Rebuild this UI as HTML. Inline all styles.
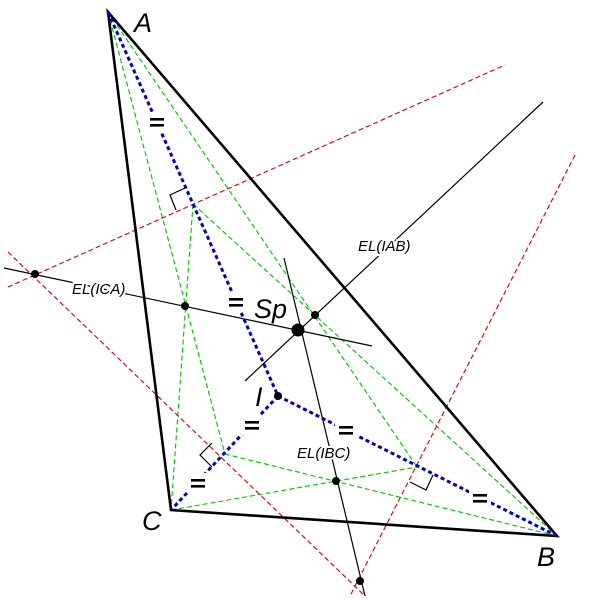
<!DOCTYPE html>
<html><head><meta charset="utf-8"><style>html,body{margin:0;padding:0;background:#fff}svg{display:block}</style></head>
<body>
<svg width="600" height="600" viewBox="0 0 600 600" xmlns="http://www.w3.org/2000/svg">
<rect width="600" height="600" fill="#fff"/>
<g stroke="#00c000" stroke-width="1.1" stroke-dasharray="5,3" fill="none">
<line x1="108" y1="12" x2="225" y2="454"/>
<line x1="108" y1="12" x2="417" y2="467"/>
<line x1="193" y1="204" x2="171" y2="510"/>
<line x1="193" y1="204" x2="557" y2="536"/>
<line x1="225" y1="454" x2="557" y2="536"/>
<line x1="171" y1="510" x2="417" y2="467"/>
</g>
<g stroke="#d00000" stroke-width="1.1" stroke-dasharray="5,3" fill="none">
<line x1="8" y1="287" x2="505" y2="65"/>
<line x1="8" y1="252" x2="365" y2="596"/>
<line x1="575" y1="155" x2="350" y2="596"/>
</g>
<g stroke="#000" stroke-width="1.2" fill="none">
<line x1="4" y1="268" x2="372" y2="346"/>
<line x1="245" y1="381" x2="543" y2="102"/>
<line x1="284" y1="258" x2="365" y2="596"/>
<polyline points="185,188 170,195 176,210"/>
<polyline points="212,443 200,455 212,467"/>
<polyline points="410,482 426,490 433,475"/>
</g>
<polygon points="108,12 557,536 171,510" fill="none" stroke="#000" stroke-width="2.6" stroke-linejoin="miter"/>
<g stroke="#0000c8" stroke-width="3" stroke-dasharray="4,3" fill="none">
<polyline points="108,12 278,396 557,536"/>
<line x1="278" y1="396" x2="171" y2="510"/>
</g>
<g fill="#fff">
<rect x="146" y="112" width="22" height="20"/>
<rect x="225" y="292" width="22" height="20"/>
<rect x="241" y="415" width="22" height="20"/>
<rect x="335" y="420" width="22" height="20"/>
<rect x="187" y="473" width="22" height="20"/>
<rect x="469" y="488" width="22" height="20"/>
</g>
<g fill="#000">
<rect x="150" y="118" width="14" height="2.6"/><rect x="150" y="124" width="14" height="2.6"/>
<rect x="229" y="298" width="14" height="2.6"/><rect x="229" y="304" width="14" height="2.6"/>
<rect x="245" y="421" width="14" height="2.6"/><rect x="245" y="427" width="14" height="2.6"/>
<rect x="339" y="426" width="14" height="2.6"/><rect x="339" y="432" width="14" height="2.6"/>
<rect x="191" y="479" width="14" height="2.6"/><rect x="191" y="485" width="14" height="2.6"/>
<rect x="473" y="494" width="14" height="2.6"/><rect x="473" y="500" width="14" height="2.6"/>
</g>
<g fill="#000">
<circle cx="35" cy="274" r="4"/>
<circle cx="185" cy="306" r="4"/>
<circle cx="298" cy="330" r="6.5"/>
<circle cx="315" cy="315" r="4"/>
<circle cx="278" cy="396" r="4"/>
<circle cx="336" cy="481" r="4"/>
<circle cx="360" cy="581" r="4"/>
</g>
<g font-family="Liberation Sans, sans-serif" font-style="italic" fill="#000">
<text x="134" y="32" font-size="27">A</text>
<text x="537" y="566" font-size="27">B</text>
<text x="142" y="530" font-size="27">C</text>
<text x="255" y="406" font-size="27">I</text>
<text x="254" y="318" font-size="27">Sp</text>
<g font-size="15" stroke="#fff" stroke-width="4" paint-order="stroke">
<text x="72" y="294">EL(ICA)</text>
<text x="358" y="251">EL(IAB)</text>
<text x="297" y="458">EL(IBC)</text>
</g>
</g>
</svg>
</body></html>
